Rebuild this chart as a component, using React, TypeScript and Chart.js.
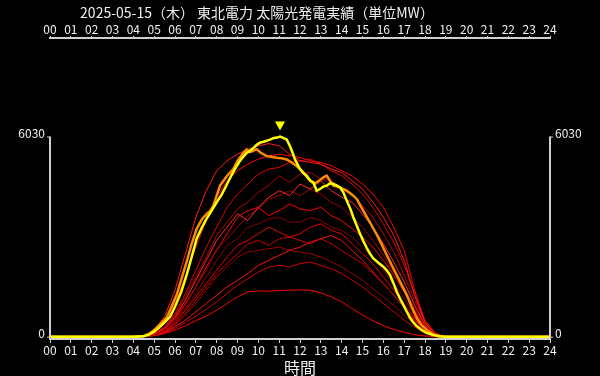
import { useEffect, useRef } from "react";
import { Chart, registerables } from "chart.js";

Chart.register(...registerables);

const TITLE = "2025-05-15（木） 東北電力 太陽光発電実績（単位MW）";
const X_TITLE = "時間";
const Y_LABEL_MAX = 6030;
const HOUR_LABELS = ["00","01","02","03","04","05","06","07","08","09","10","11","12","13","14","15","16","17","18","19","20","21","22","23","24"];

// Today (yellow)
const TODAY_HOURS = [0,4.0,4.5,4.75,5.0,5.25,5.5,5.76,6.0,6.3,6.56,6.8,7.04,7.3,7.52,7.76,8.0,8.24,8.5,8.7,8.9,9.12,9.3,9.44,9.6,9.76,9.92,10.1,10.3,10.56,10.75,10.9,11.04,11.2,11.36,11.52,11.64,11.76,12.0,12.16,12.32,12.5,12.64,12.8,12.96,13.12,13.28,13.44,13.6,13.76,13.92,14.08,14.24,14.4,14.56,14.72,14.88,15.04,15.2,15.36,15.52,15.76,16.0,16.16,16.32,16.48,16.64,16.8,16.96,17.12,17.28,17.44,17.6,17.84,18.1,18.4,18.7,19.0,24];
const TODAY_VALUES = [0,0,10,60,150,280,430,600,900,1350,1860,2400,2950,3300,3560,3800,4050,4280,4600,4850,5080,5300,5440,5540,5600,5680,5780,5850,5880,5940,5990,6000,6030,5990,5940,5740,5550,5340,5050,4930,4850,4700,4650,4400,4450,4520,4550,4620,4600,4560,4500,4350,4100,3880,3600,3350,3100,2880,2680,2500,2360,2230,2110,2000,1860,1620,1360,1150,960,760,570,430,320,200,110,50,10,0,0];

// Yesterday (orange)
const PREV_HOURS = [0,4.0,4.5,4.8,5.12,5.6,6.08,6.56,6.8,7.04,7.3,7.52,7.7,7.84,8.0,8.16,8.5,8.8,9.0,9.28,9.44,9.6,9.68,9.92,10.1,10.4,10.6,10.88,11.1,11.36,11.6,11.84,12.0,12.16,12.32,12.48,12.64,12.8,12.96,13.12,13.28,13.44,13.6,13.92,14.24,14.56,14.72,14.9,15.2,15.44,15.68,15.92,16.16,16.4,16.64,16.88,17.12,17.36,17.6,17.84,18.1,18.35,18.6,19.0,24];
const PREV_VALUES = [0,0,20,100,270,570,1260,2260,2800,3250,3550,3700,3800,3950,4250,4550,4850,5050,5300,5540,5640,5560,5580,5650,5550,5440,5420,5390,5380,5340,5250,5140,5050,4950,4820,4700,4620,4650,4720,4800,4850,4700,4550,4500,4400,4250,4150,3950,3620,3350,3080,2780,2460,2160,1860,1560,1260,900,570,350,200,80,10,0,0];

// Earlier days of the month (red), half-hourly from 04:00 to 19:00
const DAY_HOURS = [4.0,4.5,5.0,5.5,6.0,6.5,7.0,7.5,8.0,8.5,9.0,9.5,10.0,10.5,11.0,11.5,12.0,12.5,13.0,13.5,14.0,14.5,15.0,15.5,16.0,16.5,17.0,17.5,18.0,18.5,19.0];
const DAY01 = [0,30,200,600,1400,2500,3600,4400,5000,5300,5500,5650,5750,5820,5750,5500,5300,5250,5200,5050,4950,4700,4450,4050,3600,3050,2300,1250,420,70,0];
const DAY02 = [0,20,150,450,1000,1800,2700,3500,4200,4700,5000,5200,5350,5450,5500,5450,5400,5300,5250,5150,5000,4850,4600,4300,3900,3300,2600,1400,450,90,0];
const DAY03 = [0,10,100,300,700,1300,2000,2700,3300,3900,4300,4600,4900,5050,5100,5250,5300,5350,5200,5000,4850,4600,4300,3900,3400,2850,2150,1300,500,100,0];
const DAY04 = [0,10,90,280,650,1200,1800,2400,3050,3450,3850,4050,4350,4550,4850,4650,4900,4950,4750,4700,4450,4300,3950,3600,3100,2550,1850,1100,420,80,0];
const DAY05 = [0,10,80,250,600,1100,1700,2300,2900,3300,3700,3500,3900,4200,4400,4250,4600,4450,4700,4400,4200,4050,3700,3300,2800,2250,1650,950,350,70,0];
const DAY06 = [0,10,70,220,500,950,1500,2000,2650,2950,3300,3650,3850,4150,4250,4400,4250,4450,4300,4050,3900,3600,3300,2900,2450,1950,1450,850,320,60,0];
const DAY07 = [0,10,80,240,550,1000,1500,2100,2600,3100,3600,3800,3900,3650,3800,4000,3850,3800,3900,3650,3500,3250,3000,2700,2300,1850,1350,780,280,50,0];
const DAY08 = [0,5,60,200,450,850,1300,1800,2300,2750,2950,3300,3400,3550,3600,3450,3450,3600,3500,3300,3200,3000,2700,2400,2000,1600,1150,650,240,40,0];
const DAY09 = [0,5,60,180,420,800,1200,1600,2000,2400,2750,2900,3100,3300,3150,3000,3100,3300,3400,3200,3100,2800,2500,2200,1800,1400,980,560,200,30,0];
const DAY10 = [0,5,50,160,380,700,1100,1500,1900,2200,2500,2800,2900,2750,2950,3000,2900,2800,2950,2800,2600,2400,2200,1900,1600,1250,880,480,170,30,0];
const DAY11 = [0,5,40,130,300,500,750,1000,1250,1500,1700,1900,2150,2300,2450,2600,2700,2850,2950,3050,2900,2600,2300,1950,1600,1250,880,520,190,30,0];
const DAY12 = [0,5,40,120,250,430,620,820,1050,1300,1550,1750,1950,2100,2150,2100,2200,2250,2150,2050,1900,1700,1500,1250,1000,750,500,290,100,20,0];
const DAY13 = [0,5,30,90,200,330,480,620,800,1000,1200,1350,1380,1370,1390,1400,1410,1400,1320,1200,1050,850,650,480,330,220,130,60,20,0,0];
const DAY14 = [0,5,50,150,350,650,1000,1400,1800,2100,2400,2550,2600,2650,2700,2600,2550,2500,2400,2250,2100,1900,1700,1450,1200,950,650,380,130,20,0];
const DAY_SERIES = [DAY01,DAY02,DAY03,DAY04,DAY05,DAY06,DAY07,DAY08,DAY09,DAY10,DAY11,DAY12,DAY13,DAY14];
const DAY_COLORS = ["#ff1a1a","#ff0000","#e00000","#b80000","#ff2a2a","#a00000","#ff0000","#880000","#e80000","#c80000","#ff1010","#d00000","#ff0000","#9a0000"];

const FONT = '"Noto Sans CJK JP", "Noto Sans", sans-serif';
const AXIS_COLOR = "#d0d0d0";
const TEXT_COLOR = "#f0f0f0";

const toPoints = (hs: number[], vs: number[]) => hs.map((h, i) => ({ x: h, y: vs[i] }));

const overlay = {
  id: "overlay",
  beforeDraw(chart: any) {
    const { ctx, width, height } = chart;
    ctx.save();
    ctx.fillStyle = "#000";
    ctx.fillRect(0, 0, width, height);
    ctx.fillStyle = TEXT_COLOR;
    ctx.font = `14px ${FONT}`;
    ctx.textAlign = "center";
    ctx.textBaseline = "middle";
    ctx.fillText(TITLE, 257, 13);
    ctx.restore();
  },
  afterDatasetsDraw(chart: any) {
    const { ctx, chartArea, scales } = chart;
    const yTop = scales.y.getPixelForValue(Y_LABEL_MAX);
    const yBot = scales.y.getPixelForValue(0);
    ctx.save();
    ctx.strokeStyle = AXIS_COLOR;
    ctx.lineWidth = 2;
    [[chartArea.left, -3], [chartArea.right, 3]].forEach(([x, d]) => {
      ctx.beginPath();
      ctx.moveTo(x, yBot + 1);
      ctx.lineTo(x, yTop);
      ctx.stroke();
      ctx.lineWidth = 1;
      ctx.beginPath();
      ctx.moveTo(x, yTop + 0.5);
      ctx.lineTo(x + d, yTop + 0.5);
      ctx.moveTo(x, yBot + 0.5);
      ctx.lineTo(x + d, yBot + 0.5);
      ctx.stroke();
      ctx.lineWidth = 2;
    });
    // peak marker above today's maximum
    const meta = chart.getDatasetMeta(0);
    let idx = 0;
    TODAY_VALUES.forEach((v, i) => { if (v > TODAY_VALUES[idx]) idx = i; });
    const p = meta.data[idx];
    if (p) {
      ctx.fillStyle = "#ffff00";
      ctx.beginPath();
      ctx.moveTo(p.x - 5, p.y - 15);
      ctx.lineTo(p.x + 5, p.y - 15);
      ctx.lineTo(p.x, p.y - 6);
      ctx.closePath();
      ctx.fill();
    }
    ctx.restore();
  },
};

export default function App() {
  const ref = useRef<HTMLCanvasElement>(null);
  useEffect(() => {
    if (!ref.current) return;
    const datasets: any[] = [
      { data: toPoints(TODAY_HOURS, TODAY_VALUES), borderColor: "#ffff00", borderWidth: 2.5 },
      { data: toPoints(PREV_HOURS, PREV_VALUES), borderColor: "#ff8c00", borderWidth: 2.5 },
      ...DAY_SERIES.map((vals, i) => ({
        data: [{ x: 0, y: 0 }, ...toPoints(DAY_HOURS, vals), { x: 24, y: 0 }],
        borderColor: DAY_COLORS[i],
        borderWidth: 1,
      })),
    ].map((d) => ({ ...d, pointRadius: 0, tension: 0, fill: false }));

    const xCommon = {
      type: "linear",
      min: 0,
      max: 24,
      afterBuildTicks: (s: any) => { s.ticks = HOUR_LABELS.map((_, i) => ({ value: i })); },
      ticks: {
        color: TEXT_COLOR,
        font: { family: FONT, size: 12 },
        maxRotation: 0,
        autoSkip: false,
        callback: (v: any) => HOUR_LABELS[v],
      },
      grid: { display: true, drawOnChartArea: false, drawTicks: true, tickLength: 3, color: AXIS_COLOR },
      border: { display: true, color: AXIS_COLOR, width: 2 },
    };
    const yCommon = {
      type: "linear",
      min: -70,
      max: 9000,
      afterBuildTicks: (s: any) => { s.ticks = [{ value: 0 }, { value: Y_LABEL_MAX }]; },
      ticks: {
        color: TEXT_COLOR,
        font: { family: FONT, size: 12 },
        padding: 1,
        labelOffset: -3,
        callback: (v: any) => String(v),
      },
      grid: { display: false, tickLength: 4 },
      border: { display: false },
    };

    const chart = new Chart(ref.current, {
      type: "line",
      data: { datasets },
      options: {
        responsive: false,
        animation: false,
        devicePixelRatio: 1,
        layout: { padding: { top: 19, left: 0, right: 0, bottom: 0 } },
        plugins: { legend: { display: false }, tooltip: { enabled: false }, title: { display: false } },
        scales: {
          x: {
            ...xCommon,
            position: "bottom",
            ticks: { ...xCommon.ticks, padding: 0 },
            grid: { ...xCommon.grid, tickLength: 4 },
            title: { display: true, text: X_TITLE, color: TEXT_COLOR, font: { family: FONT, size: 16 }, padding: { top: 0, bottom: -2 } },
            afterFit: (s: any) => { s.height = 37; },
          },
          x2: {
            ...xCommon,
            position: "top",
            ticks: { ...xCommon.ticks, padding: -1 },
            grid: { ...xCommon.grid, tickLength: 2 },
            afterFit: (s: any) => { s.height = 19; },
          },
          y: { ...yCommon, position: "left", afterFit: (s: any) => { s.width = 50; } },
          y2: { ...yCommon, position: "right", afterFit: (s: any) => { s.width = 50; } },
        },
      } as any,
      plugins: [overlay],
    });
    return () => chart.destroy();
  }, []);

  return (
    <div style={{ position: "fixed", left: 0, top: 0, width: 600, height: 376, background: "#000" }}>
      <canvas ref={ref} width={600} height={376} style={{ width: 600, height: 376, display: "block" }} />
    </div>
  );
}
